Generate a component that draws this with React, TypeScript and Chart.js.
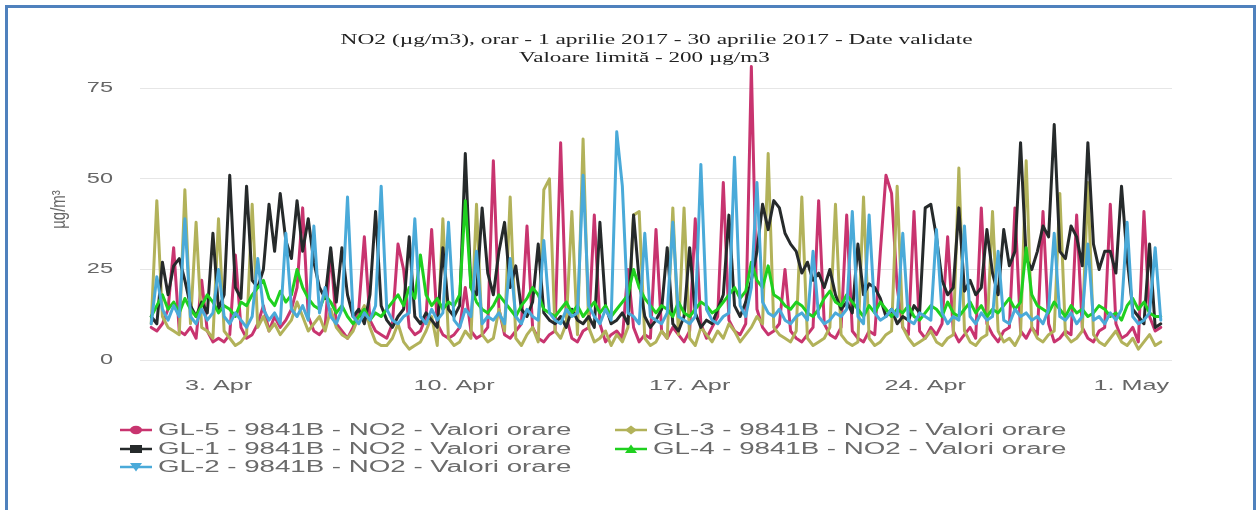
import React, { useEffect, useRef } from 'react';
import { Chart, registerables } from 'chart.js';

Chart.register(...registerables);

// Hours since 1 April 2017 00:00, sampled every 4 hours (0 .. 720 = 1 May 00:00)
const HOURS: number[] = Array.from({ length: 181 }, (_, i) => i * 4);

const X_TICK_HOURS = [48, 216, 384, 552, 720];
const X_TICK_LABELS = ['3. Apr', '10. Apr', '17. Apr', '24. Apr', '1. May'];
const Y_TICKS = [0, 25, 50, 75];

const TITLE_1 = 'NO2 (µg/m3), orar - 1 aprilie 2017 - 30 aprilie 2017 - Date validate';
const TITLE_2 = 'Valoare limită - 200 µg/m3';
const Y_TITLE = 'µg/m³';

const GL5: number[] = [
  9, 8, 10, 14, 31, 8,
  7, 9, 6, 22, 8, 5,
  6, 5, 7, 29, 9, 6,
  7, 10, 15, 8, 12, 9,
  11, 14, 20, 42, 12, 8,
  7, 9, 30, 10, 8, 6,
  9, 14, 34, 11, 8, 7,
  6, 10, 32, 25, 9, 7,
  8, 12, 36, 10, 7, 6,
  7, 9, 20, 8, 6, 7,
  9, 55, 14, 7, 6, 8,
  10, 37, 9, 6, 5, 7,
  8, 60, 12, 6, 5, 8,
  9, 40, 10, 5, 7, 8,
  6, 25, 9, 5, 7, 6,
  36, 8, 6, 9, 7, 5,
  8, 39, 10, 6, 9, 12,
  49, 11, 8, 7, 10, 81,
  14, 9, 7, 8, 10, 25,
  8, 6, 5, 7, 9, 44,
  10, 7, 6, 9, 40, 8,
  6, 5, 8, 7, 30, 51,
  46, 20, 9, 7, 41, 8,
  6, 9, 7, 10, 34, 8,
  5, 7, 9, 6, 42, 10,
  7, 5, 8, 9, 42, 8,
  6, 9, 7, 41, 10, 5,
  6, 8, 7, 40, 9, 6,
  5, 8, 9, 43, 10, 6,
  7, 9, 5, 41, 12, 8,
  9,
];

const GL3: number[] = [
  10, 44, 12, 9, 8, 7,
  47, 10, 38, 9, 8, 6,
  39, 8, 6, 4, 5, 7,
  43, 9, 12, 8, 10, 7,
  9, 11, 16, 12, 8, 10,
  12, 8, 14, 9, 7, 6,
  8, 12, 15, 9, 5, 4,
  4, 6, 10, 5, 3, 4,
  5, 8, 12, 4, 39, 6,
  4, 5, 8, 6, 43, 7,
  5, 6, 14, 8, 45, 6,
  4, 7, 9, 5, 47, 50,
  8, 6, 10, 41, 7, 61,
  9, 5, 6, 8, 4, 7,
  5, 9, 40, 41, 6, 4,
  5, 8, 6, 42, 7, 42,
  6, 4, 9, 7, 5, 8,
  6, 10, 8, 5, 7, 9,
  12, 10, 57, 9, 7, 6,
  5, 8, 45, 6, 4, 5,
  6, 9, 43, 7, 5, 4,
  5, 45, 6, 4, 5, 7,
  8, 48, 9, 6, 4, 5,
  6, 8, 5, 4, 6, 7,
  53, 8, 5, 4, 6, 7,
  41, 8, 5, 6, 4, 7,
  55, 9, 6, 5, 7, 8,
  46, 7, 5, 6, 8, 49,
  7, 5, 4, 6, 8, 5,
  4, 6, 3, 5, 7, 4,
  5,
];

const GL1: number[] = [
  12, 10, 27, 18, 26, 28,
  22, 15, 12, 16, 13, 35,
  14, 18, 51, 20, 17, 48,
  22, 20, 25, 43, 30, 46,
  33, 28, 44, 30, 39, 27,
  20, 17, 31, 16, 31, 18,
  12, 14, 10, 18, 41, 15,
  11, 9, 12, 14, 34, 12,
  10, 13, 11, 9, 31, 14,
  12, 15, 57, 20, 18, 42,
  24, 18, 30, 38, 20, 26,
  14, 12, 16, 32, 13, 11,
  10, 12, 9, 14, 11, 10,
  12, 9, 38, 15, 10, 11,
  13, 10, 40, 22, 12, 9,
  11, 14, 31, 10, 8, 12,
  31, 13, 9, 11, 10, 14,
  18, 40, 15, 12, 16, 22,
  30, 43, 36, 44, 42, 35,
  32, 30, 24, 27, 22, 24,
  20, 25, 18, 14, 16, 13,
  32, 18, 21, 20, 17, 12,
  14, 10, 12, 11, 15, 13,
  42, 43, 34, 22, 18, 20,
  42, 19, 22, 18, 20, 36,
  24, 18, 36, 26, 30, 60,
  28, 25, 30, 37, 34, 65,
  30, 28, 37, 34, 26, 60,
  32, 25, 30, 30, 24, 48,
  28, 14, 12, 10, 32, 9,
  10,
];

const GL4: number[] = [
  12, 15, 18, 14, 16, 13,
  17, 14, 12, 15, 18, 16,
  13, 15, 14, 12, 16, 15,
  18, 20, 22, 17, 15, 19,
  16, 18, 25, 20, 17, 15,
  14, 18, 16, 13, 15, 12,
  10, 12, 14, 11, 13, 12,
  14, 16, 18, 15, 20, 17,
  29, 18, 15, 17, 14, 16,
  15, 18, 44, 20, 16, 14,
  13, 15, 18, 16, 14, 12,
  15, 17, 20, 18, 14, 13,
  12, 14, 16, 13, 15, 12,
  14, 16, 13, 15, 12, 14,
  16, 18, 25, 20, 17, 15,
  13, 15, 14, 12, 16, 13,
  12, 14, 16, 15, 13, 14,
  16, 18, 20, 17, 19, 27,
  22, 20, 26, 18, 17, 15,
  14, 16, 15, 13, 12, 14,
  17, 19, 16, 15, 18, 16,
  14, 12, 15, 13, 16, 14,
  12, 14, 13, 15, 12, 11,
  13, 15, 14, 12, 16, 13,
  12, 14, 16, 13, 15, 12,
  14, 13, 15, 17, 14, 16,
  31, 18, 15, 14, 13, 16,
  14, 12, 15, 13, 14, 12,
  13, 15, 14, 12, 13, 11,
  15, 17, 14, 16, 13, 12,
  12,
];

const GL2: number[] = [
  10, 23, 14, 11, 15, 12,
  39, 12, 10, 14, 11, 13,
  25, 12, 10, 13, 11, 9,
  12, 28, 14, 11, 13, 10,
  35, 14, 12, 15, 11, 37,
  13, 20, 12, 10, 14, 45,
  12, 10, 13, 11, 15, 48,
  14, 11, 10, 12, 13, 39,
  12, 10, 14, 11, 13, 38,
  11, 9, 14, 12, 30, 10,
  12, 11, 13, 10, 28, 12,
  10, 14, 12, 11, 33, 13,
  11, 10, 14, 12, 13, 51,
  15, 12, 10, 14, 11, 63,
  48, 13, 12, 10, 35, 12,
  11, 10, 13, 38, 12, 11,
  10, 12, 54, 14, 11, 10,
  12, 13, 56, 15, 12, 20,
  49, 16, 13, 12, 14, 11,
  10, 12, 13, 11, 30, 12,
  10, 11, 13, 12, 14, 41,
  12, 10, 40, 13, 11, 12,
  14, 12, 35, 11, 10, 13,
  12, 11, 36, 13, 10, 12,
  11, 37, 12, 10, 13, 11,
  12, 30, 11, 10, 14, 12,
  13, 11, 12, 10, 14, 35,
  12, 11, 13, 10, 12, 32,
  11, 12, 10, 13, 11, 14,
  38, 12, 10, 11, 13, 31,
  11,
];

type Marker = 'circle' | 'diamond' | 'square' | 'triangle' | 'triangle-down';
interface SeriesDef { name: string; color: string; data: number[]; marker: Marker; }

const SERIES: SeriesDef[] = [
  { name: 'GL-5 - 9841B - NO2 - Valori orare', color: '#c8346f', data: GL5, marker: 'circle' },
  { name: 'GL-3 - 9841B - NO2 - Valori orare', color: '#b2b25a', data: GL3, marker: 'diamond' },
  { name: 'GL-1 - 9841B - NO2 - Valori orare', color: '#262a2b', data: GL1, marker: 'square' },
  { name: 'GL-4 - 9841B - NO2 - Valori orare', color: '#1fd01f', data: GL4, marker: 'triangle' },
  { name: 'GL-2 - 9841B - NO2 - Valori orare', color: '#4aaad9', data: GL2, marker: 'triangle-down' },
];

const STRETCH = 1.68;
const LEGEND_STRETCH = 1.73;
const SANS = '"Liberation Sans", Arial, Helvetica, sans-serif';
const SERIF = '"Liberation Serif", "Times New Roman", serif';

const axisTextPlugin = {
  id: 'axisText',
  afterDraw(chart: any) {
    const ctx: CanvasRenderingContext2D = chart.ctx;
    const xs = chart.scales.x;
    const ys = chart.scales.y;
    const area = chart.chartArea;
    ctx.save();
    ctx.fillStyle = '#666666';
    ctx.textBaseline = 'middle';
    ctx.font = `14px ${SANS}`;
    Y_TICKS.forEach((v) => {
      const py = ys.getPixelForValue(v);
      ctx.save();
      ctx.translate(area.left - 27, py);
      ctx.scale(STRETCH, 1);
      ctx.textAlign = 'right';
      ctx.fillText(String(v), 0, 0);
      ctx.restore();
    });
    ctx.font = `15px ${SANS}`;
    X_TICK_HOURS.forEach((h, i) => {
      const last = i === X_TICK_HOURS.length - 1;
      const px = last ? area.right - 3 : xs.getPixelForValue(h);
      ctx.save();
      ctx.translate(px, area.bottom + 26);
      ctx.scale(STRETCH, 1);
      ctx.textAlign = last ? 'right' : 'center';
      ctx.fillText(X_TICK_LABELS[i], 0, 0);
      ctx.restore();
    });
    ctx.font = `15px ${SANS}`;
    ctx.save();
    ctx.translate(60, (area.top + area.bottom) / 2 - 2);
    ctx.scale(1.3, 1);
    ctx.rotate(-Math.PI / 2);
    ctx.textAlign = 'center';
    ctx.fillText(Y_TITLE, 0, 0);
    ctx.restore();
    ctx.restore();
  },
};

function MarkerIcon({ color, marker }: { color: string; marker: Marker }) {
  const cx = 16;
  const cy = 6;
  let shape: React.ReactNode = null;
  if (marker === 'circle') shape = <ellipse cx={cx} cy={cy} rx={6} ry={4.2} fill={color} />;
  else if (marker === 'square') shape = <rect x={cx - 6} y={cy - 4} width={12} height={8} fill={color} />;
  else if (marker === 'diamond')
    shape = <polygon points={`${cx - 6},${cy} ${cx},${cy - 4.5} ${cx + 6},${cy} ${cx},${cy + 4.5}`} fill={color} />;
  else if (marker === 'triangle')
    shape = <polygon points={`${cx - 6},${cy + 4} ${cx},${cy - 4.5} ${cx + 6},${cy + 4}`} fill={color} />;
  else shape = <polygon points={`${cx - 6},${cy - 4} ${cx + 6},${cy - 4} ${cx},${cy + 4.5}`} fill={color} />;
  return (
    <svg width={32} height={12} style={{ display: 'block' }}>
      <line x1={0} y1={cy} x2={32} y2={cy} stroke={color} strokeWidth={2.5} />
      {shape}
    </svg>
  );
}

const LEGEND_POS = [
  { x: 120, y: 430 },
  { x: 615, y: 430 },
  { x: 120, y: 448.5 },
  { x: 615, y: 448.5 },
  { x: 120, y: 467 },
];

export default function App() {
  const canvasRef = useRef<HTMLCanvasElement | null>(null);

  useEffect(() => {
    const canvas = canvasRef.current;
    if (!canvas) return;
    const chart = new Chart(canvas, {
      type: 'line',
      data: {
        labels: HOURS,
        datasets: SERIES.map((s, i) => ({
          label: s.name,
          data: s.data,
          borderColor: s.color,
          backgroundColor: s.color,
          borderWidth: 3,
          pointRadius: 0,
          tension: 0,
          fill: false,
          borderJoinStyle: 'round' as const,
          borderCapStyle: 'round' as const,
          order: SERIES.length - i,
        })),
      },
      options: {
        responsive: false,
        animation: false,
        devicePixelRatio: 1,
        layout: { padding: { left: 0, right: 87, top: 63, bottom: 0 } },
        plugins: {
          legend: { display: false },
          tooltip: { enabled: false },
          title: { display: false },
        },
        scales: {
          x: {
            type: 'linear',
            min: -8,
            max: 728,
            grid: { display: false },
            border: { display: false },
            ticks: { display: false },
            afterFit: (s: any) => {
              s.height = 150;
            },
          },
          y: {
            min: 0,
            max: 82,
            grid: { color: '#e6e6e6', lineWidth: 1, drawTicks: false },
            border: { display: false },
            ticks: { display: false },
            afterBuildTicks: (s: any) => {
              s.ticks = Y_TICKS.map((v) => ({ value: v }));
            },
            afterFit: (s: any) => {
              s.width = 140;
            },
          },
        },
      } as any,
      plugins: [axisTextPlugin],
    });
    return () => chart.destroy();
  }, []);

  return (
    <div
      style={{
        position: 'fixed',
        left: 0,
        top: 0,
        width: 1259,
        height: 510,
        overflow: 'hidden',
        background: '#ffffff',
      }}
    >
      <div
        style={{
          position: 'absolute',
          left: 5,
          top: 5,
          width: 1245,
          height: 530,
          border: '3px solid #4f81bd',
        }}
      />
      <canvas
        ref={canvasRef}
        width={1259}
        height={510}
        style={{ position: 'absolute', left: 0, top: 0, width: 1259, height: 510 }}
      />
      <div
        style={{
          position: 'absolute',
          left: 0,
          width: 1314,
          top: 30,
          textAlign: 'center',
          fontFamily: SERIF,
          fontSize: 15,
          color: '#222',
          lineHeight: '18px',
          whiteSpace: 'nowrap',
        }}
      >
        <span style={{ display: 'inline-block', transform: 'scaleX(1.56)' }}>{TITLE_1}</span>
      </div>
      <div
        style={{
          position: 'absolute',
          left: 0,
          width: 1288,
          top: 48,
          textAlign: 'center',
          fontFamily: SERIF,
          fontSize: 15,
          color: '#222',
          lineHeight: '18px',
          whiteSpace: 'nowrap',
        }}
      >
        <span style={{ display: 'inline-block', transform: 'scaleX(1.54)' }}>{TITLE_2}</span>
      </div>
      {SERIES.map((s, i) => (
        <div
          key={s.name}
          style={{
            position: 'absolute',
            left: LEGEND_POS[i].x,
            top: LEGEND_POS[i].y - 9,
            height: 18,
            display: 'flex',
            alignItems: 'center',
            whiteSpace: 'nowrap',
          }}
        >
          <MarkerIcon color={s.color} marker={s.marker} />
          <span
            style={{
              display: 'inline-block',
              marginLeft: 6,
              fontFamily: SANS,
              fontSize: 16,
              color: '#6a6a6a',
              transform: `scaleX(${LEGEND_STRETCH})`,
              transformOrigin: 'left center',
            }}
          >
            {s.name}
          </span>
        </div>
      ))}
    </div>
  );
}
